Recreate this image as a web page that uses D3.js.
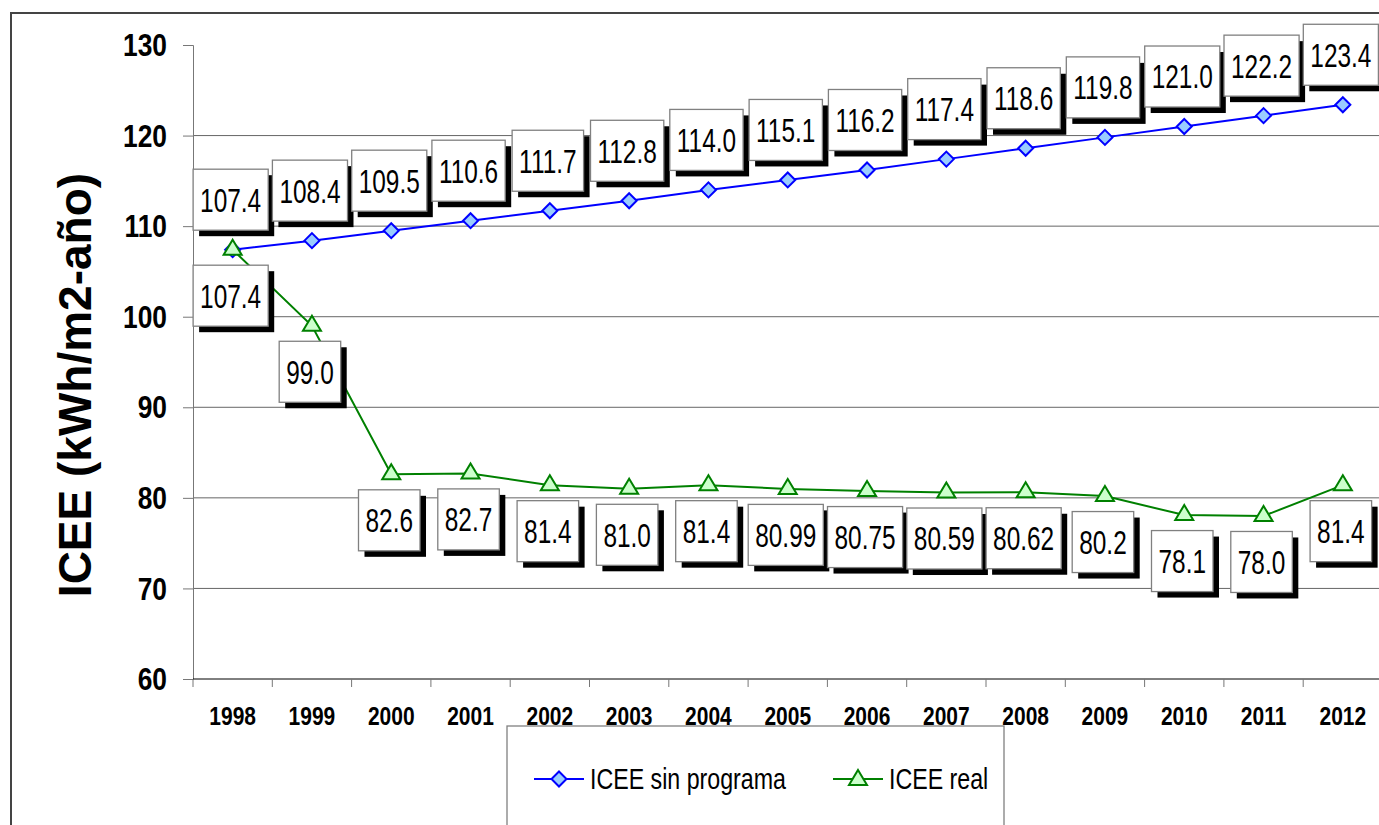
<!DOCTYPE html>
<html>
<head>
<meta charset="utf-8">
<script src="https://cdn.jsdelivr.net/npm/d3@7"></script>
<style>
  body { margin: 0; background: #fff; }
  svg { display: block; }
</style>
</head>
<body>
<div id="chart"></div>
<script>
// datos
var years = ["1998","1999","2000","2001","2002","2003","2004","2005","2006","2007","2008","2009","2010","2011","2012"];
var sinPrograma = [107.4,108.4,109.5,110.6,111.7,112.8,114.0,115.1,116.2,117.4,118.6,119.8,121.0,122.2,123.4];
var sinProgramaLabels = ["107.4","108.4","109.5","110.6","111.7","112.8","114.0","115.1","116.2","117.4","118.6","119.8","121.0","122.2","123.4"];
var real = [107.4,99.0,82.6,82.7,81.4,81.0,81.4,80.99,80.75,80.59,80.62,80.2,78.1,78.0,81.4];
var realLabels = ["107.4","99.0","82.6","82.7","81.4","81.0","81.4","80.99","80.75","80.59","80.62","80.2","78.1","78.0","81.4"];
var yTicks = [60,70,80,90,100,110,120,130];
var seriesNames = ["ICEE sin programa", "ICEE real"];

var width = 1379, height = 825;
var font = "'Liberation Sans',Arial,sans-serif";

var svg = d3.select("#chart").append("svg")
    .attr("width", width)
    .attr("height", height);

// texto estrecho (imita Arial Narrow)
function narrowText(parent, px, py, str, size, weight, anchor, sq) {
    return parent.append("text")
        .attr("transform", "translate(" + px + "," + py + ") scale(" + sq + ",1)")
        .attr("text-anchor", anchor)
        .attr("dy", "0.36em")
        .style("font-family", font)
        .style("font-size", size + "px")
        .style("font-weight", weight)
        .attr("fill", "#000")
        .text(str);
}

// marco
svg.append("path")
    .attr("d", "M11,825 V13 H1379")
    .attr("fill", "none")
    .attr("stroke", "#444")
    .attr("stroke-width", 2);

// escalas
var x = d3.scaleBand().domain(years).range([193, 1382.5]);
var y = d3.scaleLinear().domain([60, 130]).range([679, 45]);
var cx = d => x(d) + x.bandwidth() / 2;

// rejilla
svg.append("g").selectAll("line")
    .data(yTicks.filter(d => d > 60 && d < 130))
    .enter().append("line")
    .attr("x1", 193).attr("x2", width)
    .attr("y1", d => y(d)).attr("y2", d => y(d))
    .attr("stroke", "#666").attr("stroke-width", 1);

// eje Y
var yAxis = svg.append("g")
    .attr("transform", "translate(193,0)")
    .call(d3.axisLeft(y).tickValues(yTicks).tickSize(10).tickFormat(""));
yAxis.select(".domain").attr("stroke", "#777");
yAxis.selectAll(".tick line").attr("stroke", "#777");
var yLab = svg.append("g");
yTicks.forEach(function(t) {
    narrowText(yLab, 167, y(t), t, 31, "bold", "end", 0.85);
});

// eje X
svg.append("line")
    .attr("x1", 193).attr("x2", width)
    .attr("y1", 679).attr("y2", 679)
    .attr("stroke", "#000");
svg.append("g").selectAll("line")
    .data(years.concat(["fin"]))
    .enter().append("line")
    .attr("x1", (d, i) => 193 + i * x.bandwidth())
    .attr("x2", (d, i) => 193 + i * x.bandwidth())
    .attr("y1", 679).attr("y2", 687)
    .attr("stroke", "#777");
var xLab = svg.append("g");
years.forEach(function(yr) {
    narrowText(xLab, cx(yr), 716, yr, 25, "bold", "middle", 0.84);
});

// titulo eje Y
svg.append("text")
    .attr("transform", "translate(91,385) rotate(-90)")
    .attr("text-anchor", "middle")
    .style("font-family", font)
    .style("font-weight", "bold")
    .style("font-size", "46px")
    .text("ICEE (kWh/m2-año)");

// lineas
var line = d3.line().x((d, i) => cx(years[i])).y(d => y(d));

svg.append("path").datum(sinPrograma)
    .attr("d", line).attr("fill", "none")
    .attr("stroke", "#0000ff").attr("stroke-width", 2);
svg.append("path").datum(real)
    .attr("d", line).attr("fill", "none")
    .attr("stroke", "#008000").attr("stroke-width", 2);

var diamond = "M0,-7.5 L7.5,0 L0,7.5 L-7.5,0 Z";
var triangle = "M0,-9 L9,6 L-9,6 Z";

svg.append("g").selectAll("path")
    .data(sinPrograma).enter().append("path")
    .attr("d", diamond)
    .attr("transform", (d, i) => "translate(" + cx(years[i]) + "," + y(d) + ")")
    .attr("fill", "#99ccff").attr("stroke", "#0000ff").attr("stroke-width", 2);

svg.append("g").selectAll("path")
    .data(real).enter().append("path")
    .attr("d", triangle)
    .attr("transform", (d, i) => "translate(" + cx(years[i]) + "," + (y(d) - 1) + ")")
    .attr("fill", "#ccffcc").attr("stroke", "#008000").attr("stroke-width", 2);

// etiquetas con caja y sombra
function drawLabels(values, labels, dy) {
    var g = svg.append("g");
    values.forEach(function(v, i) {
        var px = cx(years[i]) - 2;
        var py = y(v) + dy;
        var lg = g.append("g").attr("transform", "translate(" + px + "," + py + ")");
        var shadow = lg.append("rect").attr("fill", "#000");
        var box = lg.append("rect").attr("fill", "#fff").attr("stroke", "#808080").attr("stroke-width", 1.3);
        var sq = 0.74;
        var t = narrowText(lg, 0, 0, labels[i], 33, "normal", "middle", sq);
        var w = t.node().getBBox().width * sq + 14;
        var h = 61;
        box.attr("x", -w / 2).attr("y", -h / 2).attr("width", w).attr("height", h);
        shadow.attr("x", -w / 2 + 6).attr("y", -h / 2 + 6).attr("width", w).attr("height", h);
    });
}
drawLabels(sinPrograma, sinProgramaLabels, -50);
drawLabels(real, realLabels, 46);

// leyenda
var legend = svg.append("g");
legend.append("rect")
    .attr("x", 507).attr("y", 726).attr("width", 497).attr("height", 120)
    .attr("fill", "#fff").attr("stroke", "#808080").attr("stroke-width", 1.3);

var legendItems = [
    {name: seriesNames[0], x: 534, color: "#0000ff", fill: "#99ccff", shape: diamond},
    {name: seriesNames[1], x: 833, color: "#008000", fill: "#ccffcc", shape: triangle}
];
legendItems.forEach(function(d) {
    legend.append("line")
        .attr("x1", d.x).attr("x2", d.x + 50)
        .attr("y1", 779).attr("y2", 779)
        .attr("stroke", d.color).attr("stroke-width", 2);
    legend.append("path")
        .attr("d", d.shape)
        .attr("transform", "translate(" + (d.x + 25) + ",779)")
        .attr("fill", d.fill).attr("stroke", d.color).attr("stroke-width", 2);
    narrowText(legend, d.x + 56, 779, d.name, 29, "normal", "start", 0.8);
});
</script>
</body>
</html>
